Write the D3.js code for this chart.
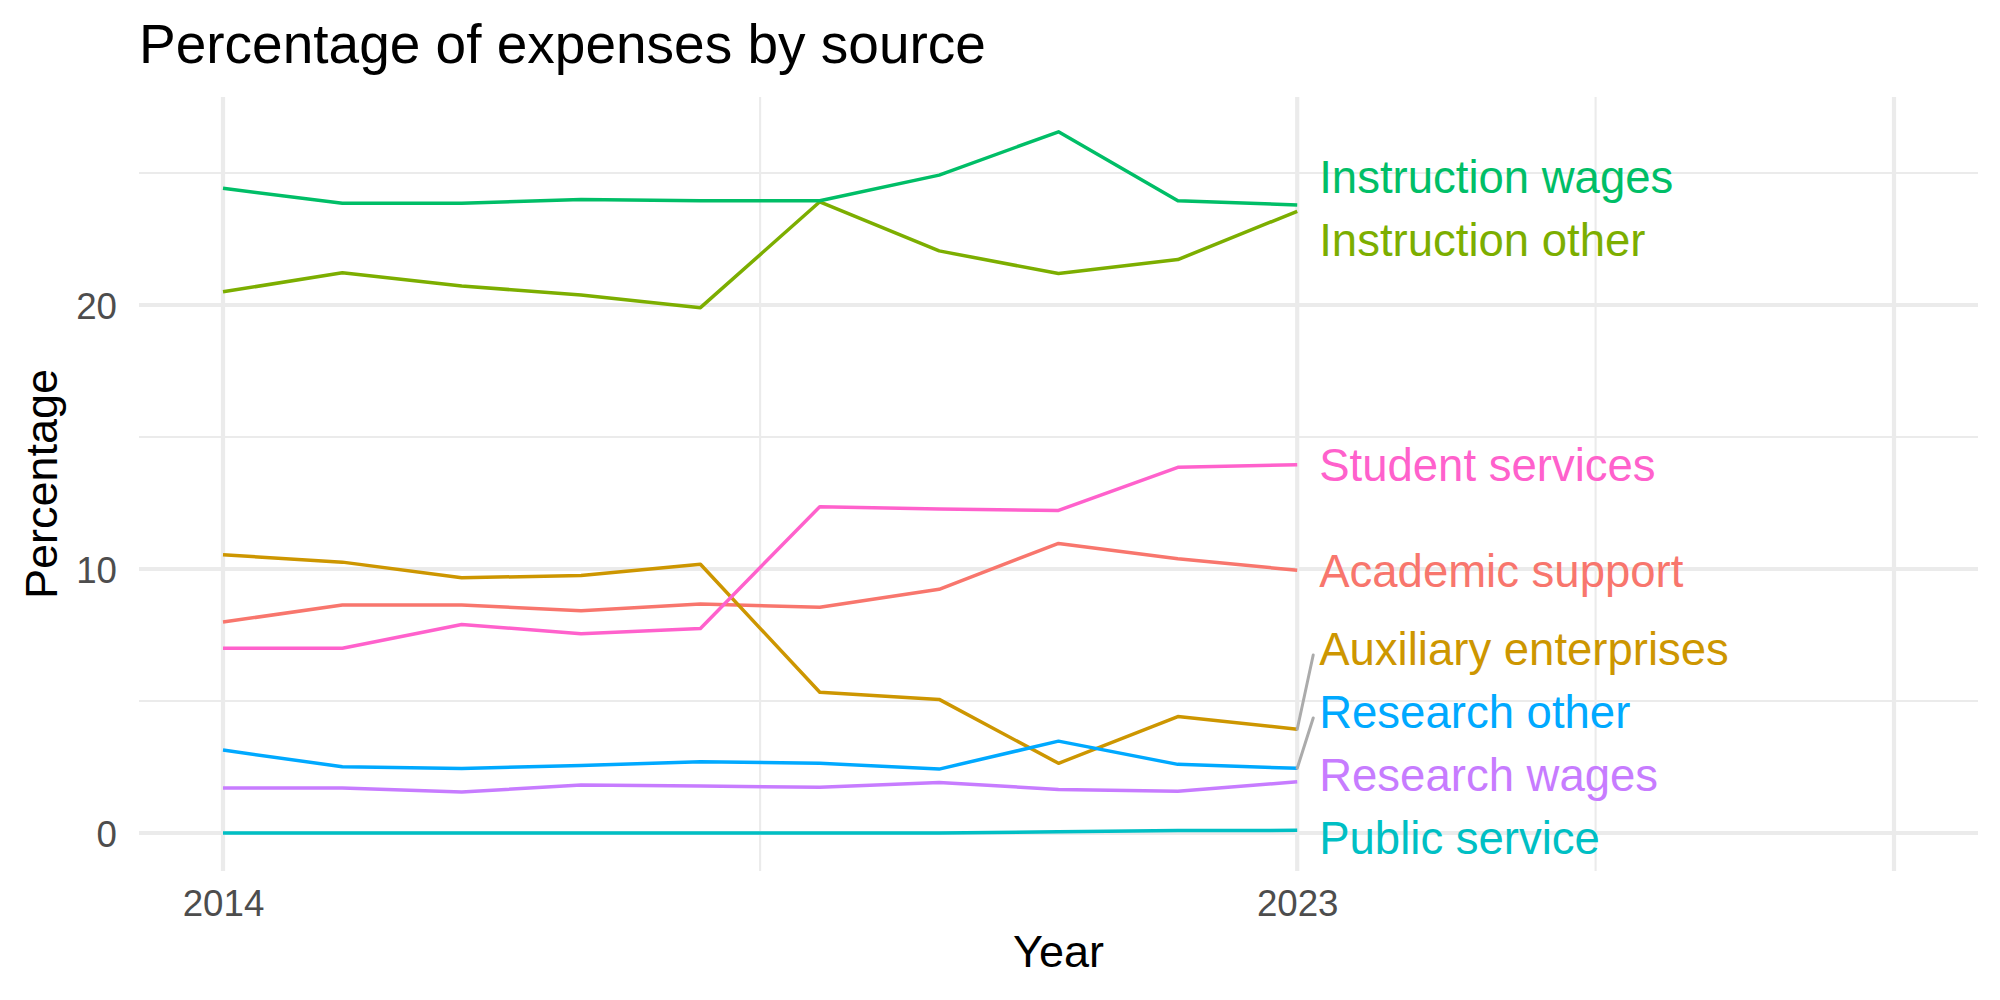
<!DOCTYPE html>
<html>
<head>
<meta charset="utf-8">
<script src="https://cdn.jsdelivr.net/npm/d3@7"></script>
<style>
  html, body { margin: 0; padding: 0; background: #fff; }
  svg { display: block; font-family: "Liberation Sans", Arial, Helvetica, sans-serif; }
</style>
</head>
<body>
<svg id="chart" width="2000" height="1000"></svg>
<script>
// ---------------- data ----------------
const years = [2014, 2015, 2016, 2017, 2018, 2019, 2020, 2021, 2022, 2023];
const seriesNames = [
  "Academic support", "Auxiliary enterprises", "Instruction other", "Instruction wages",
  "Public service", "Research other", "Research wages", "Student services"
];
const academicSupport      = [7.99, 8.64, 8.64, 8.42, 8.67, 8.55, 9.23, 10.97, 10.39, 9.95];
const auxiliaryEnterprises = [10.54, 10.26, 9.67, 9.75, 10.18, 5.33, 5.06, 2.64, 4.41, 3.93];
const instructionOther     = [20.50, 21.22, 20.72, 20.38, 19.90, 23.91, 22.05, 21.19, 21.72, 23.55];
const instructionWages     = [24.42, 23.85, 23.85, 24.00, 23.95, 23.95, 24.92, 26.56, 23.95, 23.79];
const publicService        = [0, 0, 0, 0, 0, 0, 0, 0.05, 0.09, 0.10];
const researchOther        = [3.14, 2.51, 2.44, 2.56, 2.70, 2.64, 2.42, 3.48, 2.60, 2.45];
const researchWages        = [1.70, 1.70, 1.55, 1.82, 1.78, 1.73, 1.91, 1.65, 1.58, 1.94];
const studentServices      = [7.00, 7.00, 7.90, 7.55, 7.75, 12.36, 12.27, 12.22, 13.85, 13.95];
const seriesColors = ["#F8766D", "#CD9600", "#7CAE00", "#00BE67", "#00BFC4", "#00A9FF", "#C77CFF", "#FF61CC"];
const xMajorBreaks = [2014, 2023, 2028];
const xMinorBreaks = [2018.5, 2025.5];
const xTickLabels = [2014, 2023];
const yMajorBreaks = [0, 10, 20];
const yMinorBreaks = [5, 15, 25];
const titleText = "Percentage of expenses by source";
const xTitle = "Year";
const yTitle = "Percentage";

const seriesValues = [academicSupport, auxiliaryEnterprises, instructionOther, instructionWages,
                      publicService, researchOther, researchWages, studentServices];
const series = seriesNames.map((name, i) => ({
  name, color: seriesColors[i],
  values: years.map((yr, j) => ({ year: yr, value: seriesValues[i][j] }))
}));

// ---------------- layout ----------------
const svg = d3.select("#chart");
const panel = { left: 139, right: 1978, top: 97, bottom: 871 };
const x = d3.scaleLinear().domain([2014, 2028]).range([223, 1894]);
const y = d3.scaleLinear().domain([0, 20]).range([833, 305]);
const gridColor = "#EBEBEB";

// grid: minor first, then major
const grid = svg.append("g");
grid.selectAll("line.ymin").data(yMinorBreaks).join("line")
  .attr("x1", panel.left).attr("x2", panel.right)
  .attr("y1", d => y(d)).attr("y2", d => y(d))
  .attr("stroke", gridColor).attr("stroke-width", 2.1);
grid.selectAll("line.xmin").data(xMinorBreaks).join("line")
  .attr("y1", panel.top).attr("y2", panel.bottom)
  .attr("x1", d => x(d)).attr("x2", d => x(d))
  .attr("stroke", gridColor).attr("stroke-width", 2.1);
grid.selectAll("line.ymaj").data(yMajorBreaks).join("line")
  .attr("x1", panel.left).attr("x2", panel.right)
  .attr("y1", d => y(d)).attr("y2", d => y(d))
  .attr("stroke", gridColor).attr("stroke-width", 4.2);
grid.selectAll("line.xmaj").data(xMajorBreaks).join("line")
  .attr("y1", panel.top).attr("y2", panel.bottom)
  .attr("x1", d => x(d)).attr("x2", d => x(d))
  .attr("stroke", gridColor).attr("stroke-width", 4.2);

// axes (labels only)
const yAxis = svg.append("g").attr("transform", `translate(${panel.left},0)`)
  .call(d3.axisLeft(y).tickValues(yMajorBreaks).tickFormat(d3.format("d")).tickSize(0).tickPadding(22));
const xAxis = svg.append("g").attr("transform", `translate(0,${panel.bottom})`)
  .call(d3.axisBottom(x).tickValues(xTickLabels).tickFormat(d3.format("d")).tickSize(0).tickPadding(19));
[yAxis, xAxis].forEach(g => {
  g.select(".domain").remove();
  g.selectAll("text").attr("font-size", 36.7).attr("fill", "#4D4D4D")
    .attr("font-family", "'Liberation Sans', Arial, sans-serif");
});
yAxis.selectAll("text").attr("dy", "0.36em");

// lines
const line = d3.line().x(d => x(d.year)).y(d => y(d.value));
svg.append("g").selectAll("path").data(series).join("path")
  .attr("d", d => line(d.values))
  .attr("fill", "none")
  .attr("stroke", d => d.color)
  .attr("stroke-width", 3.5)
  .attr("stroke-linejoin", "round");

// end labels with simple 1-D repel
const lastYear = years[years.length - 1];
const labelX = x(lastYear) + 22;
const labels = series.map(s => {
  const v = s.values[s.values.length - 1].value;
  return { name: s.name, color: s.color, py: y(v), cy: y(v) };
}).sort((a, b) => a.py - b.py);
const gap = 63, minC = panel.top + 33, maxC = panel.bottom - 33;
for (let it = 0; it < 2000; it++) {
  for (let i = 0; i < labels.length - 1; i++) {
    const d = labels[i + 1].cy - labels[i].cy;
    if (d < gap) {
      const s = (gap - d) / 2;
      labels[i].cy -= s; labels[i + 1].cy += s;
    }
  }
  labels.forEach(l => { l.cy = Math.max(minC, Math.min(maxC, l.cy)); });
}

// segments
svg.append("g").selectAll("line").data(labels.filter(l => Math.abs(l.cy - l.py) > 40)).join("line")
  .attr("x1", x(lastYear)).attr("y1", d => d.py)
  .attr("x2", labelX - 6).attr("y2", d => d.cy + 6)
  .attr("stroke", "#ABABAB").attr("stroke-width", 3).attr("stroke-linecap", "round");

svg.append("g").selectAll("text").data(labels).join("text")
  .attr("x", labelX).attr("y", d => d.cy).attr("dy", "0.358em")
  .attr("font-size", 45.5).attr("fill", d => d.color)
  .text(d => d.name);

// titles
svg.append("text").attr("x", panel.left).attr("y", 63)
  .attr("font-size", 55).attr("fill", "#000").text(titleText);
svg.append("text").attr("x", (panel.left + panel.right) / 2).attr("y", 967)
  .attr("text-anchor", "middle").attr("font-size", 45).attr("fill", "#000").text(xTitle);
svg.append("text").attr("transform", `translate(57,${(panel.top + panel.bottom) / 2}) rotate(-90)`)
  .attr("text-anchor", "middle").attr("font-size", 45).attr("fill", "#000").text(yTitle);
</script>
</body>
</html>
